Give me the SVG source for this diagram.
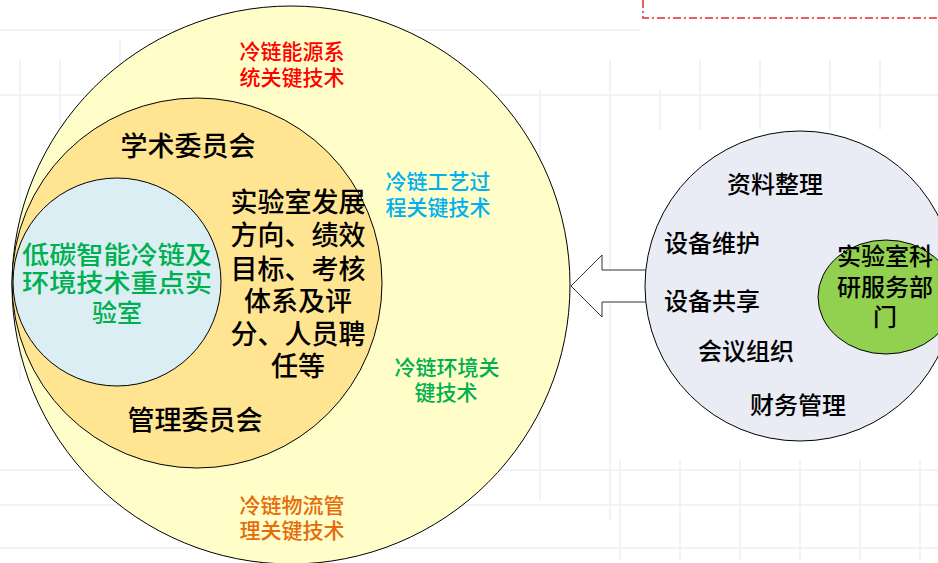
<svg xmlns="http://www.w3.org/2000/svg" width="938" height="563" viewBox="0 0 938 563">
<style>
.c{stroke:#000;stroke-width:1}
.t{font-family:"Noto Sans CJK SC","Noto Sans",sans-serif;text-anchor:middle;font-weight:500}
.b{font-size:27px;fill:#000}
.s{font-size:21px}
.r{font-size:24px;fill:#000}
.bg{stroke:#EDF1F5;stroke-width:1.5;fill:none}
</style>
<rect x="0" y="0" width="938" height="563" fill="#FFFFFF"/>
<g id="background">
<path class="bg" d="M0 30H640M0 95H938M0 470H938M0 505H938M0 548H938M20 60V380M60 60V380M120 40V100M540 90V500M610 60V520M660 90V130M700 60V130M760 60V130M830 60V130M880 60V130M620 460V560M680 460V560M740 460V560M800 460V560M860 460V560M920 460V560"/>
<path d="M643 0V18H938" fill="none" stroke="#E8605A" stroke-width="2" stroke-dasharray="8 3 2 3"/>
</g>
<g id="outer">
<circle class="c" cx="291" cy="285" r="279" fill="#FFFDC8"/>
<text class="t s" fill="#FF0000"><tspan x="292" y="59">冷链能源系</tspan><tspan x="292" y="85">统关键技术</tspan></text>
<text class="t s" fill="#00B0F0"><tspan x="438" y="189">冷链工艺过</tspan><tspan x="438" y="215">程关键技术</tspan></text>
<text class="t s" fill="#00B050"><tspan x="447" y="375">冷链环境关</tspan><tspan x="446" y="400">键技术</tspan></text>
<text class="t s" fill="#E46C0A"><tspan x="292" y="513">冷链物流管</tspan><tspan x="292" y="538">理关键技术</tspan></text>
</g>
<g id="middle">
<circle class="c" cx="197" cy="283" r="185" fill="#FFE592"/>
<text class="t b" x="188" y="156">学术委员会</text>
<text class="t b"><tspan x="298" y="212">实验室发展</tspan><tspan x="298" y="245">方向、绩效</tspan><tspan x="298" y="279">目标、考核</tspan><tspan x="298" y="311">体系及评</tspan><tspan x="298" y="344">分、人员聘</tspan><tspan x="298" y="376">任等</tspan></text>
<text class="t b" x="195" y="430">管理委员会</text>
</g>
<g id="inner">
<circle class="c" cx="117" cy="282" r="104" fill="#DAEEF3"/>
<text class="t" font-size="25" fill="#00B050"><tspan x="117" y="264" textLength="190" lengthAdjust="spacingAndGlyphs">低碳智能冷链及</tspan><tspan x="117" y="292" textLength="190" lengthAdjust="spacingAndGlyphs">环境技术重点实</tspan><tspan x="117" y="322">验室</tspan></text>
</g>
<g id="connectors">
<polygon points="571,286 602,255 602,270 647,270 647,302 602,302 602,317" fill="#FFFFFF" stroke="#333" stroke-width="1"/>
</g>
<g id="service">
<circle class="c" cx="800" cy="286" r="155" fill="#E9ECF4"/>
<text class="t r" x="775" y="193">资料整理</text>
<text class="t r" x="712" y="252">设备维护</text>
<text class="t r" x="712" y="310">设备共享</text>
<text class="t r" x="746" y="360">会议组织</text>
<text class="t r" x="798" y="414">财务管理</text>
</g>
<g id="dept">
<ellipse class="c" cx="886" cy="297" rx="68" ry="57" fill="#92D050"/>
<text class="t r"><tspan x="885" y="265">实验室科</tspan><tspan x="885" y="296">研服务部</tspan><tspan x="885" y="326">门</tspan></text>
</g>
</svg>
